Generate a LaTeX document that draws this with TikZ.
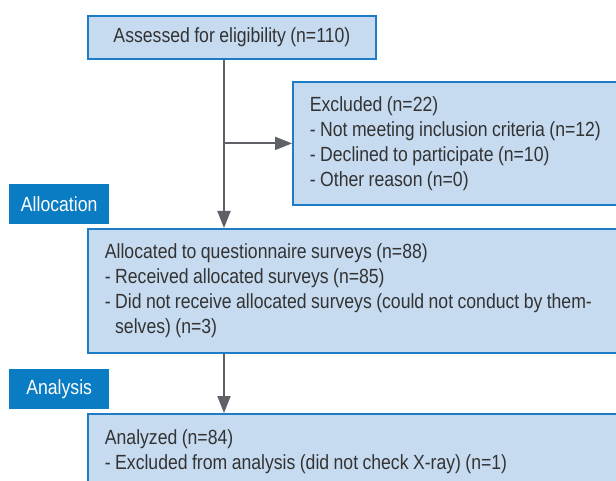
\documentclass[tikz,border=0pt]{standalone}
\usepackage{fontspec}
\setmainfont{Liberation Sans}[FakeStretch=0.86, WordSpace=0.9]
\usepackage{xcolor}
\usetikzlibrary{positioning, arrows.meta, calc}
\definecolor{boxfill}{HTML}{C6DBF0}
\definecolor{boxline}{HTML}{1E7CC6}
\definecolor{tagfill}{HTML}{0A7CC4}
\definecolor{flowgray}{HTML}{5E6166}
\definecolor{txtgray}{HTML}{333333}

\begin{document}
\begin{tikzpicture}[x=1pt, y=-1pt,
    every node/.style={font=\fontsize{20.5}{25}\selectfont},
    stagebox/.style={draw=boxline, line width=1.8pt, fill=boxfill, text=txtgray,
      anchor=north west, inner xsep=17pt,
      execute at begin node={\spaceskip=0pt\xspaceskip=0pt\relax}},
    phasetag/.style={fill=tagfill, text=white, anchor=north west,
      minimum width=100pt, minimum height=39.5pt, inner sep=0pt},
    flow/.style={draw=flowgray, line width=2pt,
      -{Triangle[length=17pt, width=13pt]}}]
  \clip (0,0) rectangle (616,481);
  \fill[white] (0,0) rectangle (616,481);
  % boxes
  \node[stagebox, minimum width=288pt, minimum height=42.5pt, inner xsep=0pt]
    (assess) at (87,15.5) {Assessed for eligibility (n=110)};
  \node[stagebox, text width=360pt, minimum height=123pt, align=left]
    (excl) at (292,81) {Excluded (n=22)\\
      - Not meeting inclusion criteria (n=12)\\
      - Declined to participate (n=10)\\
      - Other reason (n=0)};
  \node[stagebox, text width=560pt, minimum height=124pt, align=left]
    (alloc) at (87,228) {Allocated to questionnaire surveys (n=88)\\
      - Received allocated surveys (n=85)\\
      - Did not receive allocated surveys (could not conduct by them-\\
      \phantom{- }selves) (n=3)};
  \node[stagebox, text width=560pt, minimum height=76pt, align=left]
    (anal) at (87,413) {Analyzed (n=84)\\
      - Excluded from analysis (did not check X-ray) (n=1)};
  % phase labels
  \node[phasetag] (tagalloc) at (9,184) {Allocation};
  \node[phasetag] (taganal) at (9,369) {Analysis};
  % arrows
  \coordinate (trunk) at (224,0);
  \draw[flow] (trunk |- assess.south) -- (trunk |- alloc.north);
  \draw[flow] (trunk |- excl.west) -- (excl.west);
  \draw[flow] (trunk |- alloc.south) -- (trunk |- anal.north);
\end{tikzpicture}
\end{document}
